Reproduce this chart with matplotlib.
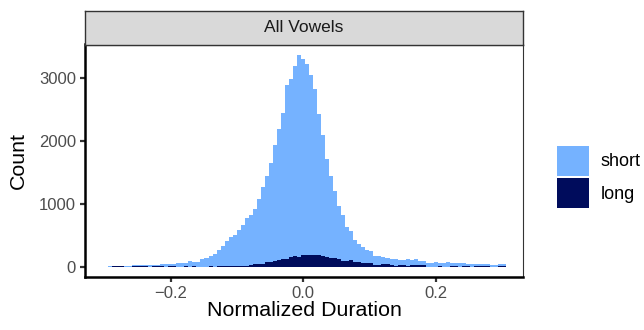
import matplotlib
matplotlib.use("Agg")
import matplotlib.pyplot as plt
from matplotlib.patches import Patch
import numpy as np

plt.rcParams['font.family'] = ['Liberation Sans', 'DejaVu Sans']

# histogram of normalized vowel duration, 99 bins
x_min, x_max = -0.2944, 0.3056
short_counts = [16, 8, 8, 8, 18, 18, 19, 19, 19, 19,
                27, 19, 19, 35, 43, 35, 35, 64, 64, 56,
                90, 66, 74, 122, 138, 162, 202, 258, 320, 388,
                452, 495, 574, 654, 765, 793, 877, 1036, 1216, 1370,
                1582, 1853, 2087, 2325, 2771, 2835, 3026, 3211, 3121, 3039,
                2872, 2647, 2245, 1917, 1565, 1310, 1069, 845, 733, 542,
                462, 351, 287, 255, 207, 186, 148, 148, 111, 95,
                98, 115, 79, 79, 107, 79, 97, 63, 63, 53,
                53, 74, 45, 53, 74, 45, 45, 53, 45, 29,
                37, 29, 29, 29, 29, 22, 22, 32, 32]
long_counts = [0, 8, 8, 8, 0, 0, 8, 8, 8, 8,
               0, 8, 8, 8, 0, 8, 8, 0, 0, 8,
               0, 8, 0, 0, 0, 8, 0, 8, 10, 16,
               16, 10, 10, 10, 10, 30, 42, 42, 48, 74,
               74, 90, 106, 122, 122, 154, 170, 160, 186, 186,
               186, 186, 186, 175, 150, 134, 142, 122, 90, 90,
               106, 74, 74, 59, 59, 59, 27, 27, 43, 43,
               27, 10, 27, 27, 10, 27, 20, 27, 27, 0,
               0, 0, 8, 0, 0, 8, 8, 0, 8, 8,
               0, 8, 8, 8, 8, 0, 0, 10, 10]
groups = ['short', 'long']
colors = {'short': '#75B2FF', 'long': '#000C5C'}
panel_title = 'All Vowels'

short_counts = np.array(short_counts)
long_counts = np.array(long_counts)
edges = np.linspace(x_min, x_max, len(short_counts) + 1)

fig = plt.figure(figsize=(6.44, 3.30), dpi=100)
ax = fig.add_axes([85/644, 1 - 277/330, (523 - 85)/644, (277 - 44.5)/330])

# stacked: long at the bottom, short on top
ax.stairs(long_counts, edges, baseline=0, fill=True, color=colors['long'], lw=0)
ax.stairs(long_counts + short_counts, edges, baseline=long_counts, fill=True,
          color=colors['short'], lw=0)

ax.set_xlim(-0.329, 0.331)
ax.set_ylim(-164, 3538)
ax.set_xticks([-0.2, 0.0, 0.2])
ax.set_xticklabels(['\u22120.2', '0.0', '0.2'])
ax.set_yticks([0, 1000, 2000, 3000])
ax.tick_params(length=3.5, width=1.6, color='#333333', labelcolor='#4D4D4D',
               labelsize=12, pad=3)

for s in ['left', 'bottom']:
    ax.spines[s].set_linewidth(1.8)
    ax.spines[s].set_color('black')
for s in ['right', 'top']:
    ax.spines[s].set_linewidth(0.8)
    ax.spines[s].set_color('#333333')

ax.set_xlabel('Normalized Duration', fontsize=15.4, labelpad=0)
ax.set_ylabel('Count', fontsize=15.4, labelpad=8)

# facet strip
strip = fig.add_axes([85/644, 1 - 44.5/330, (523 - 85)/644, (44.5 - 11)/330])
strip.set_facecolor('#D9D9D9')
strip.set_xticks([])
strip.set_yticks([])
for s in strip.spines.values():
    s.set_color('#333333')
    s.set_linewidth(1.0)
strip.text(0.5, 0.5, panel_title, ha='center', va='center', fontsize=12.5,
           color='#1A1A1A', transform=strip.transAxes)

handles = [Patch(facecolor=colors[g], edgecolor='none') for g in groups]
fig.legend(handles, groups, loc='center left', bbox_to_anchor=(556.5/644, 1 - 177/330),
           frameon=False, fontsize=13, handlelength=1.78, handleheight=2.2,
           handletextpad=0.65, labelspacing=0.12, borderpad=0, borderaxespad=0)

plt.savefig('out.png', dpi=100)
